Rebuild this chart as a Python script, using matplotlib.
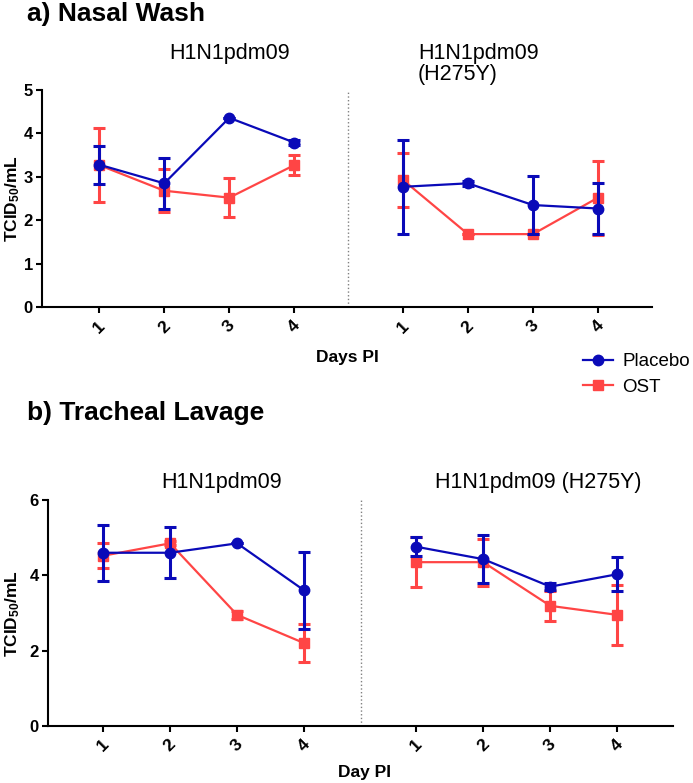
import matplotlib
matplotlib.use("Agg")
import matplotlib.pyplot as plt
from matplotlib.lines import Line2D

plt.rcParams['font.family'] = ['Liberation Sans', 'DejaVu Sans']
plt.rcParams['mathtext.fontset'] = 'custom'
plt.rcParams['mathtext.bf'] = 'Liberation Sans:bold'
plt.rcParams['mathtext.rm'] = 'Liberation Sans:bold'
plt.rcParams['mathtext.default'] = 'bf'

# DATA
days = [1, 2, 3, 4]
day_labels = ["1", "2", "3", "4"]

# a) Nasal wash, H1N1pdm09
nw_wt_plac = [3.28, 2.85, 4.36, 3.79]
nw_wt_plac_err = [0.44, 0.58, 0.0, 0.05]
nw_wt_ost = [3.27, 2.68, 2.52, 3.27]
nw_wt_ost_err = [0.85, 0.5, 0.45, 0.23]
# a) Nasal wash, H1N1pdm09 (H275Y)
nw_mut_plac = [2.77, 2.85, 2.35, 2.27]
nw_mut_plac_err = [1.09, 0.05, 0.67, 0.59]
nw_mut_ost = [2.93, 1.68, 1.68, 2.52]
nw_mut_ost_err = [0.63, 0.0, 0.0, 0.85]

# b) Tracheal lavage, H1N1pdm09
tl_wt_plac = [4.6, 4.6, 4.85, 3.6]
tl_wt_plac_err = [0.75, 0.68, 0.0, 1.03]
tl_wt_ost = [4.52, 4.85, 2.95, 2.2]
tl_wt_ost_err = [0.33, 0.05, 0.1, 0.5]
# b) Tracheal lavage, H1N1pdm09 (H275Y)
tl_mut_plac = [4.76, 4.43, 3.7, 4.03]
tl_mut_plac_err = [0.25, 0.64, 0.1, 0.45]
tl_mut_ost = [4.35, 4.35, 3.19, 2.95]
tl_mut_ost_err = [0.67, 0.62, 0.4, 0.8]

BLUE = '#0a0ab8'
RED = '#ff4545'
shift = 4.67  # offset of second group on the x axis


def draw(ax, wt_p, wt_pe, wt_o, wt_oe, mu_p, mu_pe, mu_o, mu_oe):
    x2 = [d + shift for d in days]
    for xs, o, oe, p, pe in [(days, wt_o, wt_oe, wt_p, wt_pe), (x2, mu_o, mu_oe, mu_p, mu_pe)]:
        ax.errorbar(xs, o, yerr=oe, color=RED, marker='s', ms=7.5, lw=1.6,
                    elinewidth=2.2, capsize=4.5, capthick=2.2, zorder=2)
        ax.errorbar(xs, p, yerr=pe, color=BLUE, marker='o', ms=7.5, lw=1.6,
                    elinewidth=2.2, capsize=4.5, capthick=2.2, zorder=3)
    ax.set_xticks(days + x2)
    ax.set_xticklabels(day_labels * 2, rotation=45, fontsize=12.5, fontweight='bold')
    ax.spines['top'].set_visible(False)
    ax.spines['right'].set_visible(False)
    ax.spines['left'].set_linewidth(1.5)
    ax.spines['bottom'].set_linewidth(1.5)
    ax.tick_params(width=1.5, length=4.5)
    ax.tick_params(axis='y', labelsize=12, pad=2)


fig = plt.figure(figsize=(6.93, 7.83), dpi=100)

ax1 = fig.add_axes([0.0606, 0.6079, 0.8802, 0.2771])
draw(ax1, nw_wt_plac, nw_wt_plac_err, nw_wt_ost, nw_wt_ost_err,
     nw_mut_plac, nw_mut_plac_err, nw_mut_ost, nw_mut_ost_err)
ax1.set_xlim(0.12, 9.5)
ax1.set_ylim(0, 5)
ax1.set_yticks([0, 1, 2, 3, 4, 5])
for t in ax1.get_yticklabels():
    t.set_fontweight('bold')
ax1.axvline(4.83, color='gray', ls=':', lw=1)
ax1.set_ylabel(r'TCID$_{50}$/mL', fontsize=12.5, fontweight='bold')
ax1.yaxis.set_label_coords(-0.033, 0.5)

ax2 = fig.add_axes([0.0693, 0.0728, 0.9019, 0.2886])
draw(ax2, tl_wt_plac, tl_wt_plac_err, tl_wt_ost, tl_wt_ost_err,
     tl_mut_plac, tl_mut_plac_err, tl_mut_ost, tl_mut_ost_err)
ax2.set_xlim(0.18, 9.5)
ax2.set_ylim(0, 6)
ax2.set_yticks([0, 2, 4, 6])
for t in ax2.get_yticklabels():
    t.set_fontweight('bold')
ax2.axvline(4.85, color='gray', ls=':', lw=1)
ax2.set_ylabel(r'TCID$_{50}$/mL', fontsize=12.5, fontweight='bold')
ax2.yaxis.set_label_coords(-0.042, 0.5)

W, H = 693.0, 783.0
fig.text(27 / W, 1 - 14 / H, 'a) Nasal Wash', fontsize=19, fontweight='bold', va='center')
fig.text(27 / W, 1 - 413 / H, 'b) Tracheal Lavage', fontsize=19, fontweight='bold', va='center')
fig.text(230 / W, 1 - 53 / H, 'H1N1pdm09', fontsize=15.5, ha='center', va='center')
fig.text(418 / W, 1 - 64 / H, 'H1N1pdm09\n(H275Y)', fontsize=15.5, ha='left', va='center',
         linespacing=1.05)
fig.text(222 / W, 1 - 482 / H, 'H1N1pdm09', fontsize=15.5, ha='center', va='center')
fig.text(538 / W, 1 - 482 / H, 'H1N1pdm09 (H275Y)', fontsize=15.5, ha='center', va='center')
fig.text(347 / W, 1 - 357 / H, 'Days PI', fontsize=12.5, fontweight='bold', ha='center', va='center')
fig.text(364 / W, 1 - 772 / H, 'Day PI', fontsize=12.5, fontweight='bold', ha='center', va='center')

handles = [Line2D([], [], color=BLUE, marker='o', ms=7.5, lw=1.6),
           Line2D([], [], color=RED, marker='s', ms=7.5, lw=1.6)]
fig.legend(handles, ['Placebo', 'OST'], loc='upper left', bbox_to_anchor=(583 / W, 1 - 353 / H),
           frameon=False, fontsize=13.5, handlelength=1.6, handletextpad=0.5, labelspacing=0.45,
           borderaxespad=0, borderpad=0)

fig.savefig('out.png', dpi=100)
